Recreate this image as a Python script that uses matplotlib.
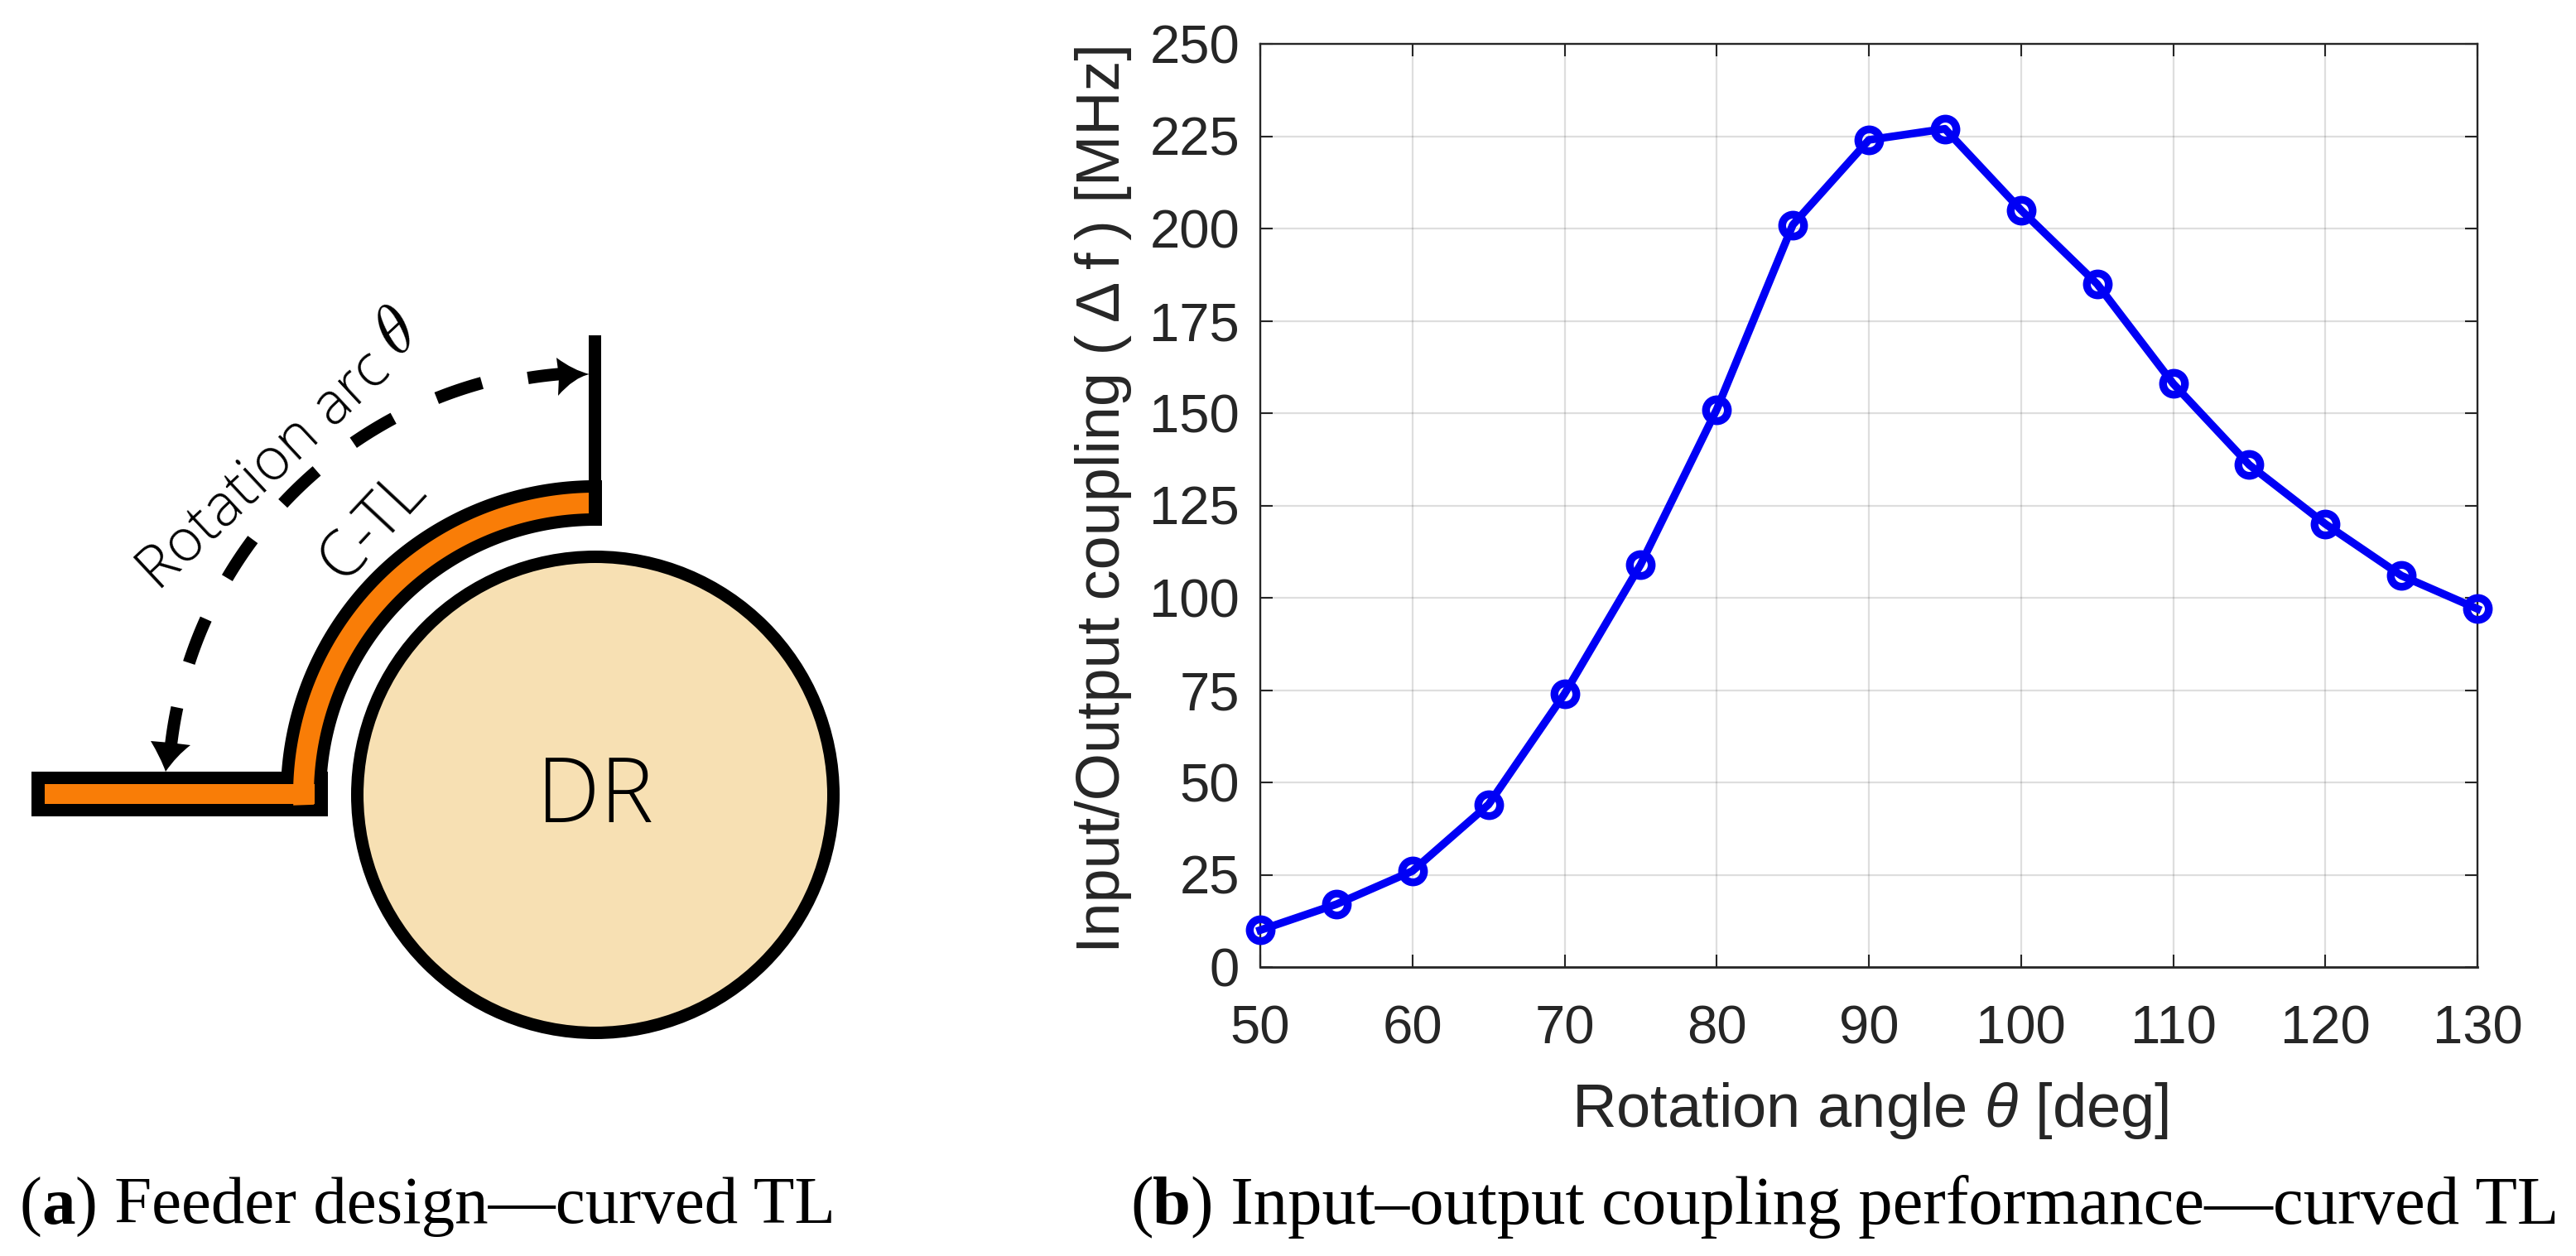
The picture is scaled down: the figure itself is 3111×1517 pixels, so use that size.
"""Feeder design sketch and coupling curve for the curved TL."""

import matplotlib

matplotlib.use("Agg")
import matplotlib.pyplot as plt
import numpy as np
from matplotlib.patches import Circle, PathPatch, Polygon
from matplotlib.path import Path

W, H = 3111, 1517
DPI = 100

angle_deg = [50, 55, 60, 65, 70, 75, 80, 85, 90, 95, 100, 105, 110, 115, 120, 125, 130]
coupling_mhz = [10, 17, 26, 44, 74, 109, 151, 201, 224, 227, 205, 185, 158, 136, 120, 106, 97]
x_ticks = [50, 60, 70, 80, 90, 100, 110, 120, 130]
y_ticks = [0, 25, 50, 75, 100, 125, 150, 175, 200, 225, 250]

# dash start/end angles (deg) of the rotation arc, from left end to arrow
arc_dashes = [(168.2, 173.2), (155.7, 162.0), (143.3, 149.5), (130.7, 137.0),
              (118.2, 124.5), (105.4, 111.8), (94.8, 99.2)]

INK = "#262626"
BLUE = "#0000f5"
ORANGE = "#f97d07"
SAND = "#f7e0b3"
CX, CY = 719, 960


def polar(r, deg):
    t = np.radians(deg)
    return CX + r * np.cos(t), CY - r * np.sin(t)


def band(ax, r_in, r_out, x_end, color, zorder):
    a = np.linspace(90 - np.degrees(np.arcsin(x_end / r_out)), 182, 120)
    b = np.linspace(182, 90 - np.degrees(np.arcsin(x_end / r_in)), 120)
    pts = np.vstack([np.column_stack(polar(r_out, a)), np.column_stack(polar(r_in, b))])
    ax.add_patch(Polygon(pts, closed=True, fc=color, ec="none", zorder=zorder))


def rect(ax, x0, x1, y0, y1, color, zorder):
    ax.add_patch(Polygon([(x0, y0), (x1, y0), (x1, y1), (x0, y1)], fc=color, ec="none", zorder=zorder))


def head(ax, tip, c1, notch, c2, bend1, bend2):
    verts = [tip, bend1, c1, notch, c2, bend2, tip, tip]
    codes = [Path.MOVETO, Path.CURVE3, Path.CURVE3, Path.LINETO, Path.LINETO,
             Path.CURVE3, Path.CURVE3, Path.CLOSEPOLY]
    ax.add_patch(PathPatch(Path(verts, codes), fc="black", ec="none", zorder=6))


def draw_sketch(ax):
    ax.add_patch(Circle((CX, CY), 287.5, fc=SAND, ec="black", lw=15 * 72 / DPI, zorder=2))
    sans = ["Open Sans", "DejaVu Sans"]
    ax.text(CX, 964, "DR", fontsize=78, family=sans, weight="light", ha="center", va="center", zorder=5)

    band(ax, 325, 380, 8, "black", 3)
    rect(ax, 38, 396, 932, 986, "black", 3)
    rect(ax, 711, 726, 405, 600, "black", 3)
    band(ax, 340, 365, -8, ORANGE, 4)
    rect(ax, 54, 380, 947, 971, ORANGE, 4)

    for a0, a1 in arc_dashes:
        t = np.linspace(a0, a1, 12)
        ax.plot(*polar(516 - (t[0] < 100) * 6, t), color="black", lw=15 * 72 / DPI,
                solid_capstyle="butt", zorder=5)
    head(ax, (712, 452), (672, 432), (675, 455), (674, 478), (692, 447), (693, 456))
    head(ax, (200, 932), (182, 895), (205, 897), (230, 900), (194, 915), (213, 913))

    ax.text(319, 569, "Rotation arc", fontsize=51.5, family=sans, weight="light", rotation=43,
            rotation_mode="anchor", ha="center", va="center", zorder=5)
    ax.text(480, 403, r"$\theta$", fontsize=60, math_fontfamily="cm", rotation=43,
            rotation_mode="anchor", ha="center", va="center", zorder=5)
    ax.text(450, 636, "C-TL", fontsize=56, family=sans, weight="light", rotation=47,
            rotation_mode="anchor", ha="center", va="center", zorder=5)


def caption(fig, ax, x, y, parts, size):
    # parts run one after the other, each measured from the last
    renderer = fig.canvas.get_renderer()
    for text, weight in parts:
        t = ax.text(x, y, text, fontsize=size, family="Liberation Serif", weight=weight,
                    ha="left", va="baseline")
        x = ax.transData.inverted().transform((t.get_window_extent(renderer).x1, 0))[0]


def main():
    plt.rcParams.update({
        "font.family": ["Liberation Sans", "DejaVu Sans"],
        "mathtext.fontset": "custom",
        "mathtext.rm": "Liberation Sans",
        "mathtext.it": "Liberation Sans:italic",
    })
    fig = plt.figure(figsize=(W / DPI, H / DPI), dpi=DPI, facecolor="white")

    sketch = fig.add_axes([0, 0, 1, 1], zorder=1)
    sketch.set_xlim(0, W)
    sketch.set_ylim(H, 0)
    sketch.axis("off")
    draw_sketch(sketch)

    ax = fig.add_axes([1522 / W, 1 - 1168 / H, 1470 / W, 1115 / H], zorder=2)
    ax.patch.set_alpha(0)
    ax.plot(angle_deg, coupling_mhz, color=BLUE, lw=6.8, marker="o", ms=19,
            mfc="none", mec=BLUE, mew=6.8, clip_on=False, zorder=4)
    ax.set_xlim(50, 130)
    ax.set_ylim(0, 250)
    ax.set_xticks(x_ticks)
    ax.set_yticks(y_ticks)
    ax.grid(True, color=INK, alpha=0.15, lw=1.6)
    ax.tick_params(direction="in", length=11, width=1.5, color=INK, labelcolor=INK,
                   labelsize=47, top=True, right=True)
    ax.tick_params(axis="x", pad=33)
    ax.tick_params(axis="y", pad=18)
    for spine in ax.spines.values():
        spine.set_color(INK)
        spine.set_linewidth(1.7)
    ax.spines["bottom"].set_linewidth(2)

    sketch.text(2258, 1341, r"Rotation angle $\theta$ [deg]", fontsize=53.4, color=INK,
                ha="center", va="center")
    sketch.text(1333, 602, "Input/Output coupling (\u2009Δ\u2009f\u2009) [MHz]", fontsize=53.2, color=INK,
                rotation=90, ha="center", va="center")

    fig.canvas.draw()
    caption(fig, sketch, 24, 1478, [("(", "normal"), ("a", "bold"), (") Feeder design—curved TL", "normal")], 58.3)
    caption(fig, sketch, 1365, 1478, [("(", "normal"), ("b", "bold"),
                                      (") Input–output coupling performance—curved TL", "normal")], 59.6)
    fig.savefig("out.png", dpi=DPI)


if __name__ == "__main__":
    main()
